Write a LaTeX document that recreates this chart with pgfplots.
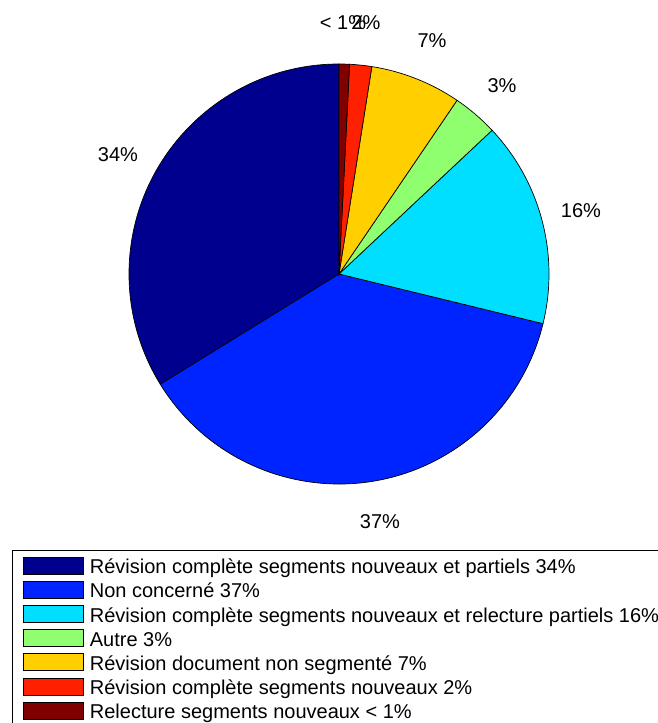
\documentclass[border=0pt]{standalone}
\usepackage{fontspec}
\setmainfont{Liberation Sans}
\usepackage{pgfplots}
\usepackage{pgfplotstable}
\pgfplotsset{compat=1.18}

\definecolor{slice0}{RGB}{0,0,143}
\definecolor{slice1}{RGB}{0,36,255}
\definecolor{slice2}{RGB}{0,223,255}
\definecolor{slice3}{RGB}{143,255,112}
\definecolor{slice4}{RGB}{255,207,0}
\definecolor{slice5}{RGB}{255,32,0}
\definecolor{slice6}{RGB}{128,0,0}

% share of each category (percent), counter-clockwise from the top
\pgfplotstableread{
pct
33.8
37.4
15.8
3.5
7.0
1.7
0.8
}\piedata

\begin{document}
\begin{tikzpicture}
\begin{axis}[
  hide axis,
  scale only axis,
  width=657pt, height=723pt,
  xmin=0, xmax=657, ymin=0, ymax=723,
  clip=false,
  legend image code/.code={\filldraw[#1] (0pt,-6.5pt) rectangle (60pt,10.5pt);},
  legend style={
    at={(axis cs:12,173)}, anchor=north west,
    draw=black, line width=0.6pt,
    inner xsep=11pt, inner ysep=6.5pt,
    row sep=2.1pt, column sep=6pt,
    nodes={inner sep=0pt, text height=17pt, text depth=5pt},
    font=\fontsize{20}{24}\selectfont,
    legend cell align=left,
  },
]
\def\angA{90}
\pgfplotsforeachungrouped \i in {0,...,6}{%
  \pgfplotstablegetelem{\i}{pct}\of\piedata
  \pgfmathsetmacro\angB{\angA+3.6*\pgfplotsretval}%
  \edef\doslice{\noexpand\filldraw[fill=slice\i, draw=black, line width=0.7pt]
    (axis cs:339,449) -- ++(\angA:210pt)
    arc[start angle=\angA, end angle=\angB, radius=210pt] -- cycle;}%
  \doslice
  \global\let\angA\angB
}

\addlegendimage{fill=slice0, draw=black, line width=0.6pt}
\addlegendentry{Révision complète segments nouveaux et partiels 34\%}
\addlegendimage{fill=slice1, draw=black, line width=0.6pt}
\addlegendentry{Non concerné 37\%}
\addlegendimage{fill=slice2, draw=black, line width=0.6pt}
\addlegendentry{Révision complète segments nouveaux et relecture partiels 16\%}
\addlegendimage{fill=slice3, draw=black, line width=0.6pt}
\addlegendentry{Autre 3\%}
\addlegendimage{fill=slice4, draw=black, line width=0.6pt}
\addlegendentry{Révision document non segmenté 7\%}
\addlegendimage{fill=slice5, draw=black, line width=0.6pt}
\addlegendentry{Révision complète segments nouveaux 2\%}
\addlegendimage{fill=slice6, draw=black, line width=0.6pt}
\addlegendentry{Relecture segments nouveaux < 1\%}

\begin{scope}[every node/.style={font=\fontsize{20}{24}\selectfont, inner sep=0pt}]
\node at (axis cs:118,568) {34\%};
\node at (axis cs:380,201) {37\%};
\node at (axis cs:581,512) {16\%};
\node at (axis cs:502,637) {3\%};
\node at (axis cs:432,682) {7\%};
\node at (axis cs:343,700) {< 1\%};
\node at (axis cs:366,700) {2\%};
\end{scope}
\end{axis}
\pgfresetboundingbox
\useasboundingbox (current axis.south west) rectangle (current axis.north east);
\end{tikzpicture}
\end{document}
